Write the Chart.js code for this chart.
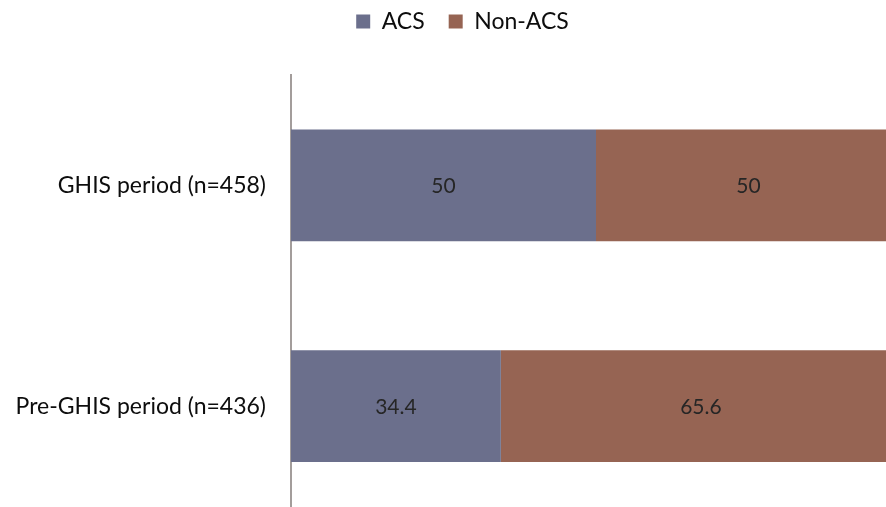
<!DOCTYPE html>
<html>
<head>
<meta charset="utf-8">
<script src="https://cdn.jsdelivr.net/npm/chart.js@4/dist/chart.umd.min.js"></script>
<style>
  html, body { margin: 0; padding: 0; background: #ffffff; overflow: hidden; }
  #wrap { width: 886px; height: 507px; overflow: hidden; position: relative; }
  canvas { position: absolute; left: 0; top: 0; }
</style>
</head>
<body>
<div id="wrap"><canvas id="c" width="910" height="520"></canvas></div>
<script>
// Share of ACS vs non-ACS cases per study period (percent)
const periods = ['GHIS period (n=458)', 'Pre-GHIS period (n=436)'];
const acsShare = [50, 34.4];
const nonAcsShare = [50, 65.6];
const seriesNames = ['ACS', 'Non-ACS'];

const FONT = 'Lato, "Open Sans", sans-serif';

// Writes each segment's value in the middle of its bar
const segmentLabels = {
  id: 'segmentLabels',
  afterDatasetsDraw(chart) {
    const ctx = chart.ctx;
    ctx.save();
    ctx.font = '21px ' + FONT;
    ctx.fillStyle = '#262626';
    ctx.textAlign = 'center';
    ctx.textBaseline = 'middle';
    chart.data.datasets.forEach((ds, di) => {
      const meta = chart.getDatasetMeta(di);
      meta.data.forEach((bar, i) => {
        const cx = (bar.x + bar.base) / 2;
        ctx.fillText(String(ds.data[i]), cx, bar.y + 1);
      });
    });
    ctx.restore();
  }
};

// Legend band: fixed height so the plot starts well below it, small shift right
const legendPlacement = {
  id: 'legendPlacement',
  afterInit(chart) {
    const lg = chart.legend;
    if (!lg) return;
    const fit = lg.fit.bind(lg);
    lg.fit = function () { fit(); this.height = 89; };
  },
  afterLayout(chart) {
    const lg = chart.legend;
    if (!lg) return;
    lg.left += 12;
    lg.right += 12;
  }
};

new Chart(document.getElementById('c'), {
  type: 'bar',
  data: {
    labels: periods,
    datasets: [
      { label: seriesNames[0], data: acsShare, backgroundColor: '#6b6f8c', borderWidth: 0 },
      { label: seriesNames[1], data: nonAcsShare, backgroundColor: '#966453', borderWidth: 0 }
    ]
  },
  options: {
    indexAxis: 'y',
    responsive: false,
    animation: false,
    layout: { padding: { left: 0, right: 9, top: -14, bottom: 3.5 } },
    datasets: { bar: { categoryPercentage: 1.0, barPercentage: 0.507 } },
    scales: {
      x: {
        stacked: true,
        min: 0,
        max: 100,
        display: false
      },
      y: {
        stacked: true,
        grid: { display: false, drawTicks: false },
        border: { display: true, color: '#a39d9b', width: 2 },
        ticks: {
          color: '#0d0d0d',
          font: { family: FONT, size: 23 },
          padding: 25
        },
        afterFit(scale) {
          scale.width = 291;
          scale.paddingTop = 0;
          scale.paddingBottom = 0;
        }
      }
    },
    plugins: {
      legend: {
        position: 'top',
        align: 'center',
        labels: {
          color: '#0d0d0d',
          font: { family: FONT, size: 23 },
          boxWidth: 14,
          boxHeight: 14,
          padding: 24
        }
      },
      tooltip: { enabled: false }
    }
  },
  plugins: [segmentLabels, legendPlacement]
});
</script>
</body>
</html>
